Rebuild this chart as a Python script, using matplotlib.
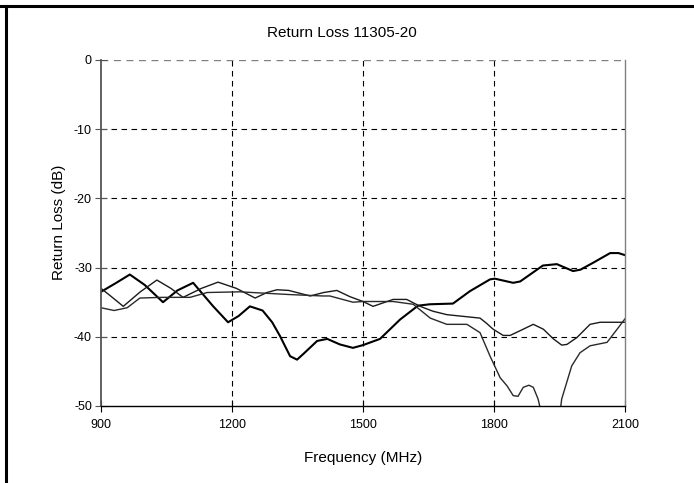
import matplotlib
matplotlib.use("Agg")
import matplotlib.pyplot as plt
from matplotlib.lines import Line2D

plt.rcParams['font.family'] = ['Liberation Sans', 'DejaVu Sans']
plt.rcParams['axes.unicode_minus'] = False

# trace 1 (heavy line)
freq_a = [900, 935, 966, 1000, 1042, 1075, 1111, 1157, 1191, 1215, 1241, 1270,
          1292, 1310, 1333, 1349, 1363, 1395, 1418, 1447, 1477, 1500, 1539,
          1585, 1626, 1653, 1706, 1745, 1791, 1802, 1844, 1860, 1912, 1944,
          1981, 1998, 2027, 2066, 2085, 2100]
rl_a = [-33.5, -32.2, -31.0, -32.5, -35.0, -33.3, -32.2, -35.6, -37.9, -37.0,
        -35.6, -36.2, -37.9, -39.9, -42.8, -43.3, -42.5, -40.6, -40.3, -41.1,
        -41.6, -41.2, -40.3, -37.5, -35.5, -35.3, -35.2, -33.4, -31.7, -31.6,
        -32.2, -32.0, -29.7, -29.5, -30.5, -30.3, -29.3, -27.9, -27.9, -28.2]

# trace 2
freq_b = [900, 920, 951, 990, 1028, 1060, 1088, 1130, 1168, 1210, 1253, 1280,
          1303, 1330, 1379, 1410, 1440, 1470, 1500, 1523, 1546, 1569, 1600,
          1631, 1660, 1692, 1768, 1782, 1798, 1821, 1837, 1867, 1890, 1913,
          1936, 1955, 1967, 1990, 2020, 2043, 2100]
rl_b = [-33.0, -34.0, -35.6, -33.5, -31.8, -33.0, -34.3, -33.0, -32.1, -33.0,
        -34.4, -33.6, -33.2, -33.3, -34.1, -33.6, -33.3, -34.2, -34.9, -35.6,
        -35.1, -34.6, -34.6, -35.6, -36.3, -36.8, -37.3, -38.0, -38.9, -39.8,
        -39.8, -38.9, -38.2, -38.9, -40.3, -41.2, -41.1, -40.1, -38.2, -37.9,
        -37.9]

# trace 3
freq_c = [900, 930, 960, 989, 1040, 1104, 1143, 1218, 1333, 1408, 1424, 1477,
          1500, 1569, 1615, 1654, 1692, 1738, 1768, 1791, 1814, 1830, 1844,
          1855, 1867, 1880, 1890, 1901, 1912, 1930, 1945, 1955, 1978, 1997,
          2020, 2059, 2082, 2100]
rl_c = [-35.8, -36.2, -35.8, -34.4, -34.3, -34.3, -33.6, -33.5, -33.9, -34.1,
        -34.1, -35.0, -34.9, -34.9, -35.3, -37.3, -38.2, -38.2, -39.4, -42.8,
        -45.9, -47.1, -48.5, -48.6, -47.3, -47.0, -47.3, -49.0, -52.0, -58.0,
        -54.0, -49.0, -44.2, -42.3, -41.3, -40.8, -38.9, -37.4]

x_ticks = [900, 1200, 1500, 1800, 2100]
y_ticks = [0, -10, -20, -30, -40, -50]
y_labels = ['0', '-10', '-20', '-30', '-40', '-50']

W, H = 694, 483
fig = plt.figure(figsize=(W / 100, H / 100), dpi=100)
ax = fig.add_axes([101 / W, 1 - 406 / H, 524 / W, 346 / H])

ax.plot(freq_a, rl_a, color='black', lw=1.5)
ax.plot(freq_b, rl_b, color='#1a1a1a', lw=1.0)
ax.plot(freq_c, rl_c, color='#2a2a2a', lw=1.0)

ax.set_xlim(900, 2100)
ax.set_ylim(-50, 0)
ax.set_xticks(x_ticks)
ax.set_xticklabels([str(t) for t in x_ticks])
ax.set_yticks(y_ticks)
ax.set_yticklabels(y_labels)
ax.tick_params(direction='inout', length=9, width=0.8, labelsize=9)
ax.tick_params(axis='x', pad=5)
ax.tick_params(axis='y', pad=2, color='#555555')

dash = (0, (5, 4))
for t in x_ticks[1:-1]:
    ax.axvline(t, color='black', lw=0.8, linestyle=dash, zorder=0)
for t in y_ticks[1:-1]:
    ax.axhline(t, color='black', lw=0.8, linestyle=dash, zorder=0)
ax.axhline(0, color='#808080', lw=1.0, linestyle=dash, zorder=0)

ax.spines['top'].set_visible(False)
ax.spines['right'].set_color('#808080')
ax.spines['right'].set_linewidth(1.0)
ax.spines['left'].set_color('#555555')
ax.spines['left'].set_linewidth(1.3)
ax.spines['bottom'].set_color('black')
ax.spines['bottom'].set_linewidth(1.0)

fig.text(342 / W, 1 - 33 / H, 'Return Loss 11305-20', ha='center',
         va='center', fontsize=11)
fig.text(363 / W, 1 - 458 / H, 'Frequency (MHz)', ha='center',
         va='center', fontsize=11)
fig.text(59 / W, 1 - 222 / H, 'Return Loss (dB)', ha='center',
         va='center', rotation=90, fontsize=11)

# page border (table cell lines)
fig.add_artist(Line2D([0, 1], [1 - 6 / H, 1 - 6 / H], color='black', lw=2.2))
fig.add_artist(Line2D([6 / W, 6 / W], [0, 1 - 6 / H], color='black', lw=2.2))

fig.savefig('out.png', dpi=100)
